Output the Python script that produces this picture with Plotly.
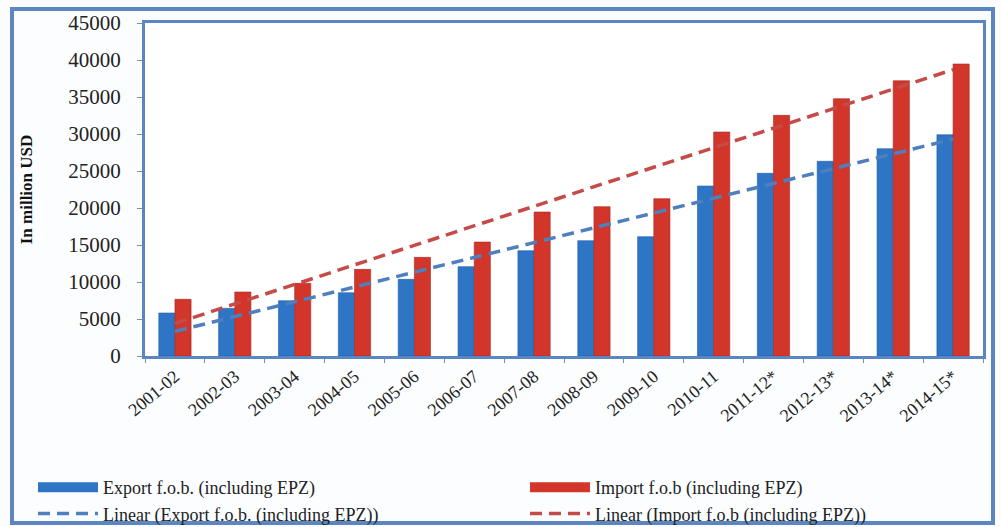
import numpy as np
import plotly.graph_objects as go

# ---- data ----
years = ["2001-02", "2002-03", "2003-04", "2004-05", "2005-06", "2006-07", "2007-08",
         "2008-09", "2009-10", "2010-11", "2011-12*", "2012-13*", "2013-14*", "2014-15*"]
export_fob = [5810, 6440, 7470, 8550, 10360, 12070, 14230, 15580, 16120, 22970,
              24690, 26310, 28010, 29900]
import_fob = [7660, 8650, 9820, 11710, 13330, 15400, 19460, 20180, 21260, 30270,
              32520, 34770, 37200, 39460]
y_ticks = [0, 5000, 10000, 15000, 20000, 25000, 30000, 35000, 40000, 45000]

name_exp = "Export f.o.b. (including EPZ)"
name_imp = "Import f.o.b (including EPZ)"
name_lexp = "Linear (Export f.o.b. (including EPZ))"
name_limp = "Linear (Import f.o.b (including EPZ))"

# linear trend (least squares, like the spreadsheet trendline)
idx = np.arange(len(years))
trend_exp = np.polyval(np.polyfit(idx, export_fob, 1), idx)
trend_imp = np.polyval(np.polyfit(idx, import_fob, 1), idx)

# ---- styling ----
W, H = 1001, 527
L, R, T, B = 145, 983, 23, 356          # plot area in pixels
BLUE = "#2e75c6"
RED = "#d2362b"
BLUE_T = "#4f7fbd"
RED_T = "#c44b47"
FRAME = "#5b86c0"
FONT = "Liberation Serif, Times New Roman, serif"

def px_x(p):
    return (p - L) / (R - L)

def px_y(p):
    return (B - p) / (B - T)

fig = go.Figure()
fig.add_trace(go.Bar(x=years, y=export_fob, name=name_exp, marker_color=BLUE,
                     marker_line=dict(color="#1f5fa8", width=0.6), showlegend=False))
fig.add_trace(go.Bar(x=years, y=import_fob, name=name_imp, marker_color=RED,
                     marker_line=dict(color="#a82a22", width=0.6), showlegend=False))
fig.add_trace(go.Scatter(x=years, y=trend_exp, mode="lines", name=name_lexp,
                         line=dict(color=BLUE_T, width=3.5, dash="12px,7px"), showlegend=False))
fig.add_trace(go.Scatter(x=years, y=trend_imp, mode="lines", name=name_limp,
                         line=dict(color=RED_T, width=3.5, dash="12px,7px"), showlegend=False))

# legend entries (2x2 grid like the original)
fig.add_trace(go.Scatter(x=[None], y=[None], mode="lines", name=name_exp,
                         line=dict(color=BLUE, width=11)))
fig.add_trace(go.Scatter(x=[None], y=[None], mode="lines", name=name_imp,
                         line=dict(color=RED, width=11)))
fig.add_trace(go.Scatter(x=[None], y=[None], mode="lines", name=name_lexp,
                         line=dict(color=BLUE_T, width=3.5, dash="12px,7px")))
fig.add_trace(go.Scatter(x=[None], y=[None], mode="lines", name=name_limp,
                         line=dict(color=RED_T, width=3.5, dash="12px,7px")))

fig.update_layout(
    width=W, height=H,
    margin=dict(l=L, r=W - R, t=T, b=H - B, pad=0, autoexpand=False),
    paper_bgcolor="#fbfdfe",
    plot_bgcolor="white",
    barmode="group",
    bargap=0.46,
    bargroupgap=0,
    font=dict(family=FONT, size=18, color="#222222"),
    legend=dict(orientation="h", x=px_x(33), y=px_y(469), xanchor="left", yanchor="top",
                entrywidth=417, entrywidthmode="pixels", itemwidth=60,
                font=dict(family=FONT, size=18, color="#222222"),
                bgcolor="rgba(0,0,0,0)", tracegroupgap=0),
    shapes=[dict(type="rect", xref="paper", yref="paper",
                 x0=px_x(12), x1=px_x(993), y0=px_y(523), y1=px_y(9),
                 line=dict(color=FRAME, width=4), fillcolor="rgba(0,0,0,0)", layer="below")],
)
fig.update_xaxes(type="category", tickangle=-40, tickson="boundaries",
                 ticks="outside", ticklen=4, tickcolor="#7f8fa6",
                 showline=True, linecolor=FRAME, linewidth=3, mirror=True,
                 showgrid=False, tickfont=dict(family=FONT, size=18))
fig.update_yaxes(range=[0, 45000], tickvals=y_ticks, tickformat="d", ticks="outside", ticklen=5,
                 tickcolor="#7f8fa6", showline=True, linecolor=FRAME, linewidth=3,
                 mirror=True, showgrid=False, zeroline=False,
                 ticklabelstandoff=12, tickfont=dict(family=FONT, size=21),
                 title=dict(text="<b>In million USD</b>", standoff=32,
                            font=dict(family=FONT, size=17, color="#111111")))

fig.write_html("out.html", config={"displayModeBar": False},
               post_script="document.body.style.margin='0';")
